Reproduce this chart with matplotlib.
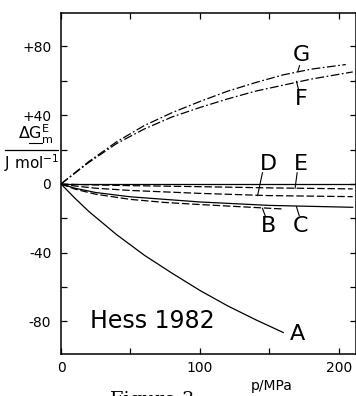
import matplotlib
matplotlib.use("Agg")
import matplotlib.pyplot as plt
from matplotlib.lines import Line2D

plt.rcParams['font.family'] = ['DejaVu Sans']

# pressure p/MPa and excess Gibbs energy / J mol-1 for each curve
p_A = [0, 10, 20, 40, 60, 80, 100, 120, 140, 160]
g_A = [0, -8.3, -16, -29.5, -41.5, -52, -62, -71, -79, -86.5]

p_B = [0, 10, 25, 50, 75, 100, 130, 160]
g_B = [0, -3, -6, -9, -10.8, -12, -13.3, -14.6]

p_C = [0, 10, 25, 50, 100, 150, 210]
g_C = [0, -2.5, -5, -7.5, -10.5, -12.5, -13.6]

p_D = [0, 10, 25, 50, 100, 150, 210]
g_D = [0, -1.2, -2.5, -3.8, -5.5, -6.8, -7.4]

p_E = [0, 10, 25, 50, 100, 150, 210]
g_E = [0, -0.3, -0.6, -1.0, -1.6, -2.3, -2.9]

p_F = [0, 20, 40, 60, 80, 100, 120, 140, 160, 180, 210]
g_F = [0, 12.5, 23.5, 32, 39, 44.5, 49.5, 54, 57.5, 61, 65.2]

p_G = [0, 20, 40, 60, 80, 100, 120, 140, 160, 180, 205]
g_G = [0, 13, 24.5, 34, 41.5, 48, 54, 59, 63.5, 66.8, 69.5]

labels = ['A', 'B', 'C', 'D', 'E', 'F', 'G']
label_pos = [(170.5, -87.5), (149.5, -24.5), (172.5, -24.5), (149.5, 11.5),
             (172.5, 11.5), (173, 49.5), (173, 75)]
# short leader strokes from label to curve
leaders = [None,
           [(145, -14.2), (147, -18.5)],
           [(169.5, -13.2), (171.5, -18.5)],
           [(145, 6.5), (141.5, -6.8)],
           [(170, 6.5), (168.5, -2.5)],
           [(169.5, 59.7), (171, 55)],
           [(171.7, 68.8), (170.5, 65.6)]]

y_ticks = [-80, -60, -40, -20, 0, 20, 40, 60, 80]
y_ticklabels = ['-80', '', '-40', '', '0', '', '+40', '', '+80']
x_ticks = [0, 50, 100, 150, 200]
x_ticklabels = ['0', '', '100', '', '200']

fig = plt.figure(figsize=(3.56, 3.96), dpi=100)
ax = fig.add_axes([61 / 356, 1 - 354 / 396, 294.5 / 356, 341 / 396])

lw = 0.9
dash = (0, (6, 2.2))
dashdot = (0, (7, 2, 1.4, 2))
ax.axhline(0, color='k', lw=lw)
ax.plot(p_A, g_A, color='k', lw=lw, ls='-')
ax.plot(p_B, g_B, color='k', lw=lw, ls=dash)
ax.plot(p_C, g_C, color='k', lw=lw, ls='-')
ax.plot(p_D, g_D, color='k', lw=lw, ls=dash)
ax.plot(p_E, g_E, color='k', lw=lw, ls=dash)
ax.plot(p_F, g_F, color='k', lw=lw, ls=dashdot)
ax.plot(p_G, g_G, color='k', lw=lw, ls=dashdot)

for lab, (x, y), ld in zip(labels, label_pos, leaders):
    ax.text(x, y, lab, fontsize=16, ha='center', va='center')
    if ld is not None:
        ax.plot([ld[0][0], ld[1][0]], [ld[0][1], ld[1][1]], color='k', lw=0.8)

ax.text(21, -79.5, 'Hess 1982', fontsize=17, ha='left', va='center')

ax.set_xlim(0, 212)
ax.set_ylim(-99, 99.5)
ax.set_xticks(x_ticks)
ax.set_xticklabels(x_ticklabels)
ax.set_yticks(y_ticks)
ax.set_yticklabels(y_ticklabels)
ax.tick_params(direction='in', length=4.5, width=0.9, labelsize=10,
               top=True, right=True)
ax.tick_params(axis='y', pad=7)
ax.tick_params(axis='x', pad=5)
for s in ax.spines.values():
    s.set_linewidth(1.1)

# axis titles
fig.text(272 / 356, 1 - 386 / 396, 'p/MPa', fontsize=10, ha='center', va='center')
fig.text(36 / 356, 1 - 139 / 396, r'$\mathrm{\Delta G}^{\mathrm{E}}_{\mathrm{m}}$',
         fontsize=11.5, ha='center', va='baseline', math_fontfamily='dejavusans')
fig.add_artist(Line2D([5 / 356, 58 / 356], [1 - 150 / 396, 1 - 150 / 396],
                      color='k', lw=0.9))
fig.add_artist(Line2D([29.5 / 356, 42 / 356], [1 - 142.5 / 396, 1 - 142.5 / 396],
                      color='k', lw=0.8))
fig.text(32 / 356, 1 - 163.5 / 396, r'J mol$^{-1}$', fontsize=11,
         ha='center', va='center')

# caption, cut off at the bottom edge
fig.text(110 / 356, 5 / 396, 'Figure 3', fontsize=14, family='DejaVu Serif',
         ha='left', va='top')

fig.savefig('out.png', dpi=100)
